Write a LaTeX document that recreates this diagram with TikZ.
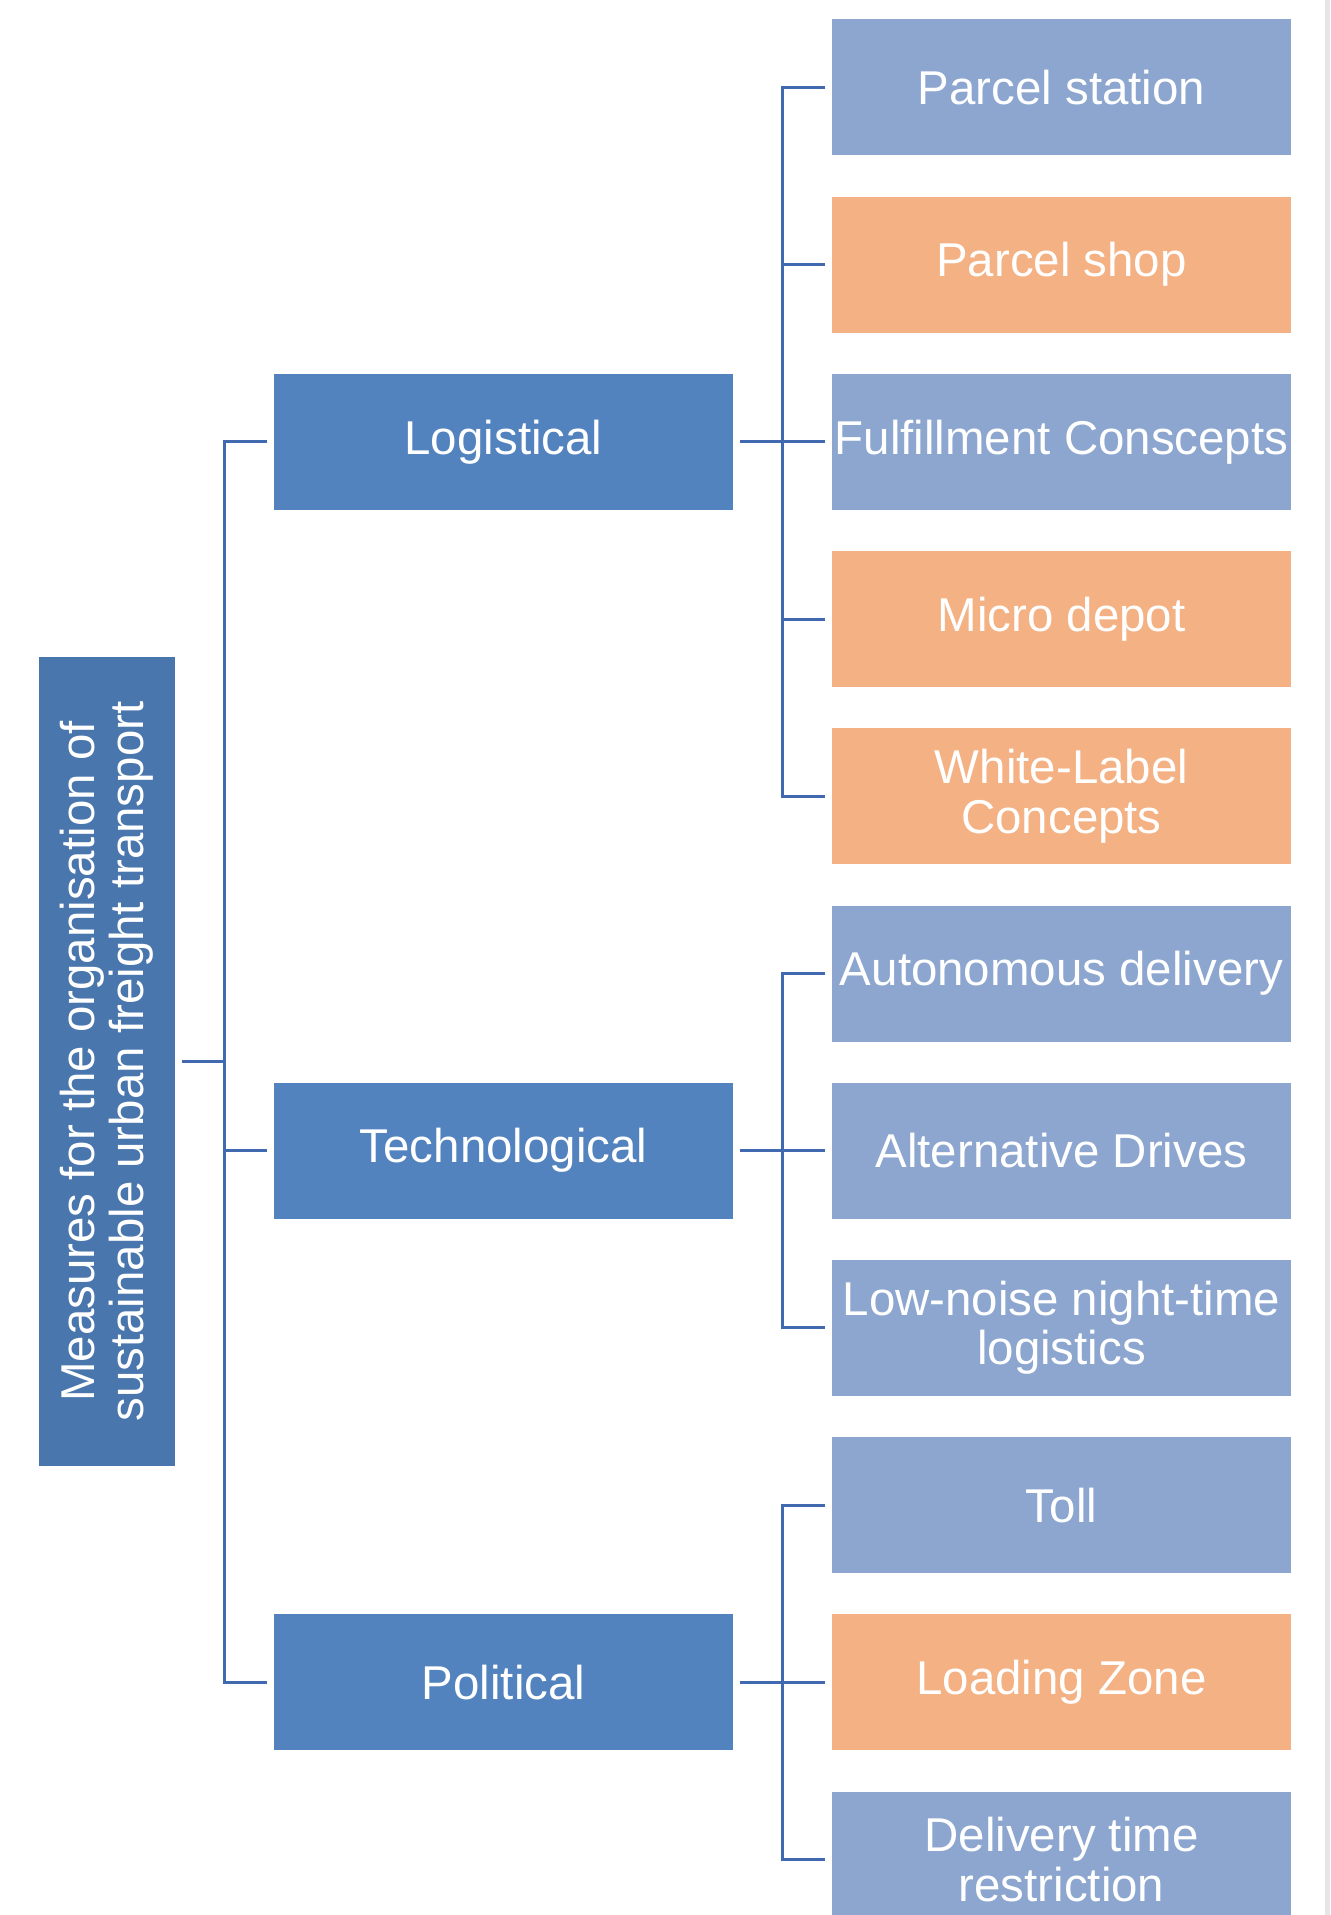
\documentclass[tikz,border=0pt]{standalone}
\usepackage{fontspec}
\setmainfont{Liberation Sans}
\usetikzlibrary{positioning}
\definecolor{rootBlue}{HTML}{4A76AE}
\definecolor{catBlue}{HTML}{5383BF}
\definecolor{leafBlue}{HTML}{8CA6CF}
\definecolor{leafOrange}{HTML}{F4B183}
\definecolor{linkBlue}{HTML}{4169AF}
\definecolor{edgeGray}{HTML}{E6E6E6}
\tikzset{
  boxtext/.style={text=white, inner sep=0pt, align=center,
                  font=\fontsize{13.5}{14}\selectfont},
  rootbox/.style={boxtext, fill=rootBlue, rotate=90,
                  minimum width=8.09cm, minimum height=1.36cm},
  catbox/.style={boxtext, fill=catBlue,
                 minimum width=4.59cm, minimum height=1.36cm},
  leafbox/.style={boxtext, fill=#1,
                  minimum width=4.59cm, minimum height=1.36cm},
  link/.style={draw=linkBlue, line width=0.85pt},
}

\begin{document}
\begin{tikzpicture}[x=1cm, y=1cm]
  \useasboundingbox (0,0) rectangle (13.3,-19.15);
  % scrollbar edge on the right
  \fill[edgeGray] (13.25,0) rectangle (13.3,-19.15);

  % root
  \node[rootbox] (root) at (1.07,-10.615)
    {Measures for the organisation of\\sustainable urban freight transport};

  % categories
  \node[catbox] (logi) at (5.035,-4.419) {Logistical};
  \node[catbox] (tech) at (5.035,-11.507) {Technological};
  \node[catbox] (poli) at (5.035,-16.823) {Political};

  % logistical measures
  \node[leafbox=leafBlue]   (pstat) at (10.615,-0.875) {Parcel station};
  \node[leafbox=leafOrange] (pshop) at (10.615,-2.647) {Parcel shop};
  \node[leafbox=leafBlue]   (fulf)  at (10.615,-4.419) {Fulfillment Conscepts};
  \node[leafbox=leafOrange] (micro) at (10.615,-6.191) {Micro depot};
  \node[leafbox=leafOrange] (wlab)  at (10.615,-7.963) {White-Label\\Concepts};

  % technological measures
  \node[leafbox=leafBlue] (auto)  at (10.615,-9.735) {Autonomous delivery};
  \node[leafbox=leafBlue] (drive) at (10.615,-11.507) {Alternative Drives};
  \node[leafbox=leafBlue] (night) at (10.615,-13.279) {Low-noise night-time\\logistics};

  % political measures
  \node[leafbox=leafBlue]   (toll) at (10.615,-15.051) {Toll};
  \node[leafbox=leafOrange] (load) at (10.615,-16.823) {Loading Zone};
  \node[leafbox=leafBlue]   (dtime) at (10.615,-18.595) {Delivery time\\restriction};

  % spines
  \coordinate (rspine) at ([xshift=0.49cm]root.south);
  \coordinate (lspine) at ([xshift=0.49cm]logi.east);
  \coordinate (tspine) at ([xshift=0.49cm]tech.east);
  \coordinate (pspine) at ([xshift=0.49cm]poli.east);

  % root -> categories
  \draw[link] ([xshift=0.06cm]root.south) -- (rspine);
  \draw[link] ([xshift=-0.06cm]logi.west) -| (rspine |- poli.west)
    -- ([xshift=-0.06cm]poli.west);
  \draw[link] ([xshift=-0.06cm]tech.west) -- (rspine |- tech.west);

  % logistical -> leaves
  \draw[link] ([xshift=0.06cm]logi.east) -- ([xshift=-0.06cm]fulf.west);
  \draw[link] ([xshift=-0.06cm]pstat.west) -| (lspine |- wlab.west)
    -- ([xshift=-0.06cm]wlab.west);
  \draw[link] ([xshift=-0.06cm]pshop.west) -- (lspine |- pshop.west);
  \draw[link] ([xshift=-0.06cm]micro.west) -- (lspine |- micro.west);

  % technological -> leaves
  \draw[link] ([xshift=0.06cm]tech.east) -- ([xshift=-0.06cm]drive.west);
  \draw[link] ([xshift=-0.06cm]auto.west) -| (tspine |- night.west)
    -- ([xshift=-0.06cm]night.west);

  % political -> leaves
  \draw[link] ([xshift=0.06cm]poli.east) -- ([xshift=-0.06cm]load.west);
  \draw[link] ([xshift=-0.06cm]toll.west) -| (pspine |- dtime.west)
    -- ([xshift=-0.06cm]dtime.west);
\end{tikzpicture}
\end{document}
